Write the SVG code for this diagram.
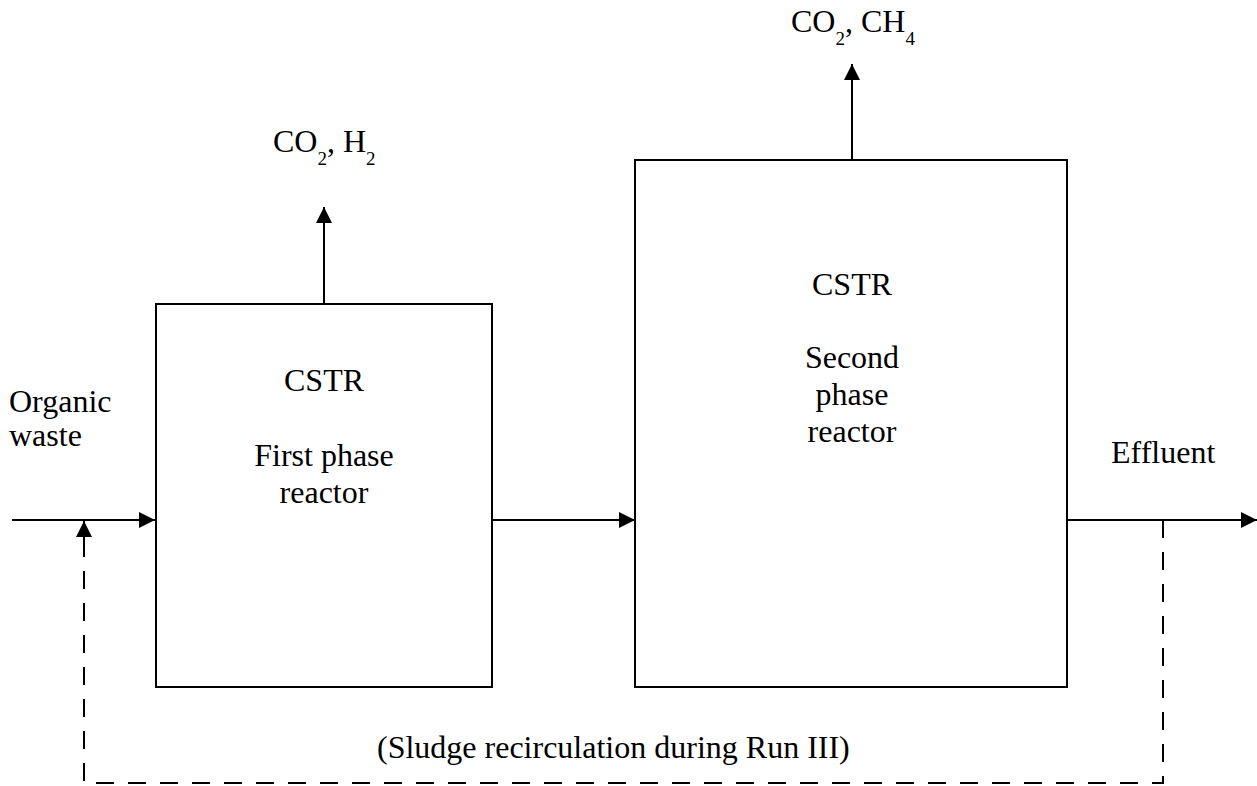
<svg xmlns="http://www.w3.org/2000/svg" width="1257" height="786" viewBox="0 0 1257 786">
<style>
  .box { fill: #ffffff; stroke: #000000; stroke-width: 2; }
  .ln { fill: none; stroke: #000000; stroke-width: 2; }
  .dash { fill: none; stroke: #000000; stroke-width: 2; stroke-dasharray: 18 14; }
  text { font-family: "Liberation Serif", "Times New Roman", serif; font-size: 32px; fill: #000000; }
  .mid { text-anchor: middle; }
  .sub { font-size: 19px; }
</style>
<defs>
  <marker id="arrow" viewBox="0 0 16 16" refX="16" refY="8" markerWidth="16" markerHeight="16" markerUnits="userSpaceOnUse" orient="auto">
    <path d="M0,0 L16,8 L0,16 Z" fill="#000000"/>
  </marker>
</defs>
<rect width="1257" height="786" fill="#ffffff"/>
<g id="connectors">
  <line class="ln" x1="12" y1="520" x2="155" y2="520" marker-end="url(#arrow)"/>
  <line class="ln" x1="324" y1="304" x2="324" y2="207" marker-end="url(#arrow)"/>
  <line class="ln" x1="492" y1="520" x2="635" y2="520" marker-end="url(#arrow)"/>
  <line class="ln" x1="852" y1="160" x2="852" y2="64" marker-end="url(#arrow)"/>
  <line class="ln" x1="1067" y1="520" x2="1257" y2="520" marker-end="url(#arrow)"/>
  <path class="dash" d="M1163,520 L1163,783 L84,783 L84,540"/>
  <line class="ln" x1="84" y1="540" x2="84" y2="521" marker-end="url(#arrow)"/>
</g>
<g id="first-reactor">
  <rect class="box" x="156" y="304" width="336" height="383"/>
  <text class="mid" x="324" y="391">CSTR</text>
  <text class="mid" x="324" y="466">First phase</text>
  <text class="mid" x="324" y="503">reactor</text>
</g>
<g id="second-reactor">
  <rect class="box" x="635" y="160" width="432" height="527"/>
  <text class="mid" x="852" y="295">CSTR</text>
  <text class="mid" x="852" y="368">Second</text>
  <text class="mid" x="852" y="405">phase</text>
  <text class="mid" x="852" y="442">reactor</text>
</g>
<g id="gas-first">
  <text x="273" y="152">CO<tspan class="sub" dy="13">2</tspan><tspan dy="-13">, H</tspan><tspan class="sub" dy="13">2</tspan></text>
</g>
<g id="gas-second">
  <text x="791" y="32">CO<tspan class="sub" dy="13">2</tspan><tspan dy="-13">, CH</tspan><tspan class="sub" dy="13">4</tspan></text>
</g>
<g id="organic-waste">
  <text x="9" y="412">Organic</text>
  <text x="9" y="446">waste</text>
</g>
<g id="effluent">
  <text x="1111" y="463">Effluent</text>
</g>
<g id="recirculation-label">
  <text x="377" y="758">(Sludge recirculation during Run III)</text>
</g>
</svg>
